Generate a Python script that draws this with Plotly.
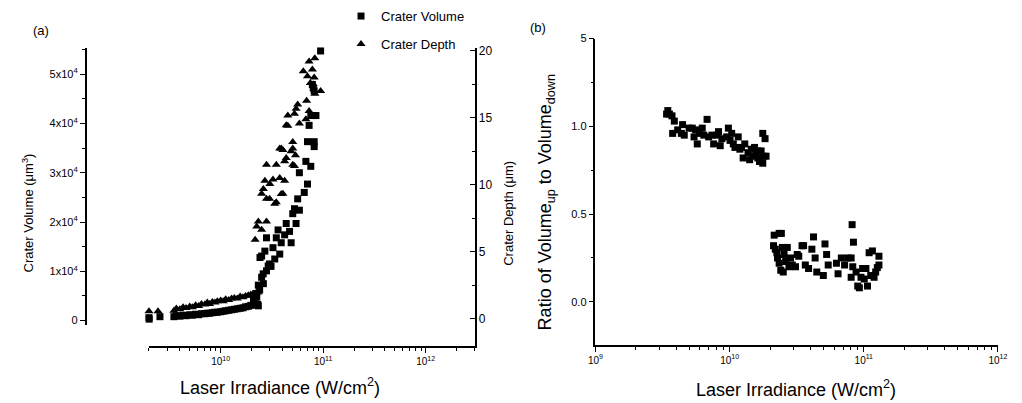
import plotly.graph_objects as go
import math

# ---------------- data ----------------
# Panel (a): irradiance in units of 1e10 W/cm^2, volume in units of 1e4 um^3
vol_x = [0.184, 0.20, 0.201, 0.256, 0.35, 0.37, 0.40, 0.43, 0.46, 0.50, 0.53, 0.57, 0.61, 0.65,
         0.70, 0.74, 0.78, 0.83, 0.88, 0.93, 1.0, 1.06, 1.12, 1.2, 1.28, 1.36, 1.45, 1.55, 1.65,
         1.75, 1.86, 1.97, 2.09, 2.2, 2.3, 2.33,
         2.09, 2.25, 2.2, 2.4, 2.33, 2.51, 2.61, 2.80, 2.91, 2.51, 2.70, 3.37, 3.77, 3.24, 3.90,
         4.87, 2.80, 3.49, 4.21, 4.70, 3.63, 4.36, 5.44, 5.05, 5.86, 5.25, 5.64, 6.54, 7.03, 5.86,
         7.57, 6.78, 8.17, 7.03, 8.17, 7.29, 7.57, 8.17, 8.17, 7.85, 9.44, 2.6, 3.0, 3.1, 2.42,
         8.5, 8.0]
vol_y = [0.05, 0.06, 0.03, 0.08, 0.08, 0.10, 0.09, 0.11, 0.10, 0.12, 0.11, 0.13, 0.12, 0.14,
         0.14, 0.15, 0.15, 0.16, 0.17, 0.17, 0.18, 0.19, 0.20, 0.21, 0.22, 0.23, 0.24, 0.25, 0.26,
         0.28, 0.29, 0.31, 0.32, 0.34, 0.33, 0.30,
         0.42, 0.48, 0.55, 0.62, 0.72, 0.88, 0.75, 1.01, 1.11, 1.31, 1.41, 1.25, 1.35, 1.48, 1.58,
         1.58, 1.68, 1.68, 1.74, 1.81, 1.84, 1.97, 1.97, 2.17, 2.24, 2.27, 2.47, 2.60, 2.77, 3.00,
         3.13, 3.23, 3.53, 3.63, 3.63, 3.96, 4.16, 4.16, 4.66, 4.79, 5.47, 0.95, 1.15, 1.10, 1.28,
         4.16, 4.72]

dep_x = [0.184, 0.20, 0.245, 0.35, 0.37, 0.40, 0.43, 0.46, 0.50, 0.53, 0.57, 0.61, 0.65, 0.70,
         0.74, 0.78, 0.83, 0.88, 0.93, 1.0, 1.06, 1.12, 1.2, 1.28, 1.36, 1.45, 1.55, 1.65, 1.75,
         1.86, 1.97, 2.09, 2.2, 2.3,
         2.17, 2.25, 2.51, 2.33, 2.80, 3.37, 2.80, 2.51, 4.05, 2.61, 3.02, 2.70, 4.21, 3.77, 3.24,
         2.80, 3.49, 4.21, 5.05, 4.36, 3.90, 5.05, 4.87, 4.05, 5.37, 5.05, 4.36, 5.86, 6.78, 4.52,
         5.25, 7.29, 5.44, 5.64, 6.89, 9.44, 7.03, 8.17, 6.40, 7.85, 7.29, 8.28, 7.75, 3.49, 3.0,
         3.9, 8.0, 8.3, 7.5, 5.25, 3.77, 4.52]
dep_y = [0.5, 0.55, 0.55, 0.6, 0.75, 0.7, 0.85, 0.8, 0.9, 0.85, 1.0, 0.95, 1.1, 1.05,
         1.2, 1.1, 1.25, 1.2, 1.3, 1.35, 1.3, 1.45, 1.4, 1.5, 1.55, 1.5, 1.65, 1.6, 1.7,
         1.75, 1.8, 1.85, 1.9, 1.95,
         5.9, 6.88, 6.64, 7.25, 7.25, 8.59, 8.95, 9.32, 9.32, 9.69, 10.05, 10.3, 10.3, 10.5, 10.4,
         11.5, 11.5, 11.76, 11.5, 12.0, 12.7, 12.7, 12.5, 12.6, 12.2, 13.2, 14.44, 14.57, 14.9, 15.18,
         15.3, 15.5, 15.67, 16.0, 16.27, 17.0, 18.1, 18.0, 18.47, 18.6, 19.2, 19.45, 21.4, 8.7, 8.95,
         9.3, 17.5, 16.8, 17.6, 11.4, 12.7, 14.4]

# Panel (b): irradiance in units of 1e10 W/cm^2, ratio Volume_up / Volume_down
rat_x = [0.346, 0.356, 0.339, 0.372, 0.387, 0.376, 0.410, 0.446, 0.437, 0.459, 0.499, 0.527,
         0.543, 0.558, 0.574, 0.597, 0.625, 0.642, 0.679, 0.698, 0.739, 0.760, 0.804, 0.827,
         0.851, 0.876, 0.951, 0.979, 1.007, 1.036, 1.065, 1.096, 1.159, 1.192, 1.226, 1.261,
         1.297, 1.371, 1.410, 1.451, 1.492, 1.534, 1.578, 1.622, 1.669, 1.717, 1.766, 1.796,
         1.837, 1.868, 1.766, 1.622,
         2.148, 2.339, 2.43, 2.125, 2.19, 2.275, 2.25, 2.339, 2.405, 2.51, 2.473, 2.545, 2.616,
         2.690, 2.767, 2.845, 2.93, 3.097, 3.19, 3.276, 3.465, 3.56, 3.666, 3.878, 4.102, 4.218,
         4.339, 4.463, 4.993, 5.137, 5.284, 5.43, 6.253, 6.430, 6.802, 7.193, 7.60, 8.052, 8.275,
         8.184, 8.370, 8.052, 8.759, 9.011, 9.266, 9.529, 9.800, 10.08, 10.37, 10.66, 10.96,
         11.59, 11.27, 11.93, 12.26, 12.61, 12.97, 12.97]
rat_y = [1.09, 1.07, 1.07, 1.06, 1.03, 0.96, 0.98, 1.01, 0.96, 0.95, 0.99, 0.99,
         0.94, 0.98, 0.90, 0.96, 0.99, 0.95, 1.04, 0.94, 0.95, 0.90, 0.95, 0.97,
         0.89, 0.93, 0.94, 0.99, 0.92, 0.96, 0.90, 0.88, 0.94, 0.87, 0.88, 0.82,
         0.90, 0.85, 0.81, 0.87, 0.83, 0.88, 0.84, 0.82, 0.80, 0.86, 0.96, 0.83,
         0.93, 0.83, 0.79, 0.86,
         0.38, 0.39, 0.39, 0.32, 0.30, 0.25, 0.28, 0.22, 0.18, 0.17, 0.31, 0.27, 0.23,
         0.31, 0.20, 0.25, 0.21, 0.20, 0.27, 0.26, 0.32, 0.32, 0.21, 0.19, 0.30, 0.37,
         0.25, 0.17, 0.15, 0.33, 0.27, 0.21, 0.22, 0.16, 0.25, 0.21, 0.25, 0.25, 0.20,
         0.44, 0.34, 0.14, 0.17, 0.09, 0.08, 0.14, 0.19, 0.13, 0.19, 0.09, 0.28,
         0.29, 0.15, 0.14, 0.17, 0.195, 0.26, 0.21]

UNIT_X = 1e10
UNIT_V = 1e4

x_major = [1e9, 1e10, 1e11, 1e12]
x_major_text = ["10<sup>9</sup>", "10<sup>10</sup>", "10<sup>11</sup>", "10<sup>12</sup>"]
vol_ticks = [0, 1e4, 2e4, 3e4, 4e4, 5e4]
vol_text = ["0", "1x10<sup>4</sup>", "2x10<sup>4</sup>", "3x10<sup>4</sup>", "4x10<sup>4</sup>", "5x10<sup>4</sup>"]
dep_ticks = [0, 5, 10, 15, 20]
rat_ticks = [0.0, 0.5, 1.0, 1.5]
rat_text = ["0.0", "0.5", "1.0", "5"]

# ---------------- layout helpers ----------------
W, H = 1022, 403
def px(x):
    return x / W
def py(y):
    return 1 - y / H

FONT = "Liberation Sans, Arial, sans-serif"
minor_x = [m * 10 ** e for e in range(9, 13) for m in range(2, 10)]

fig = go.Figure()
fig.add_trace(go.Scatter(x=[v * UNIT_X for v in vol_x], y=[v * UNIT_V for v in vol_y],
                         mode="markers", name="Crater Volume", legendgroup="a",
                         marker=dict(symbol="square", size=7, color="black"),
                         xaxis="x", yaxis="y", cliponaxis=False))
fig.add_trace(go.Scatter(x=[v * UNIT_X for v in dep_x], y=dep_y,
                         mode="markers", name="Crater Depth", legendgroup="b",
                         marker=dict(symbol="triangle-up", size=8, color="black"),
                         xaxis="x", yaxis="y2", cliponaxis=False))
fig.add_trace(go.Scatter(x=[v * UNIT_X for v in rat_x], y=rat_y,
                         mode="markers", showlegend=False,
                         marker=dict(symbol="square", size=7, color="black"),
                         xaxis="x3", yaxis="y3", cliponaxis=False))

axis_common = dict(showline=True, linecolor="black", linewidth=1.5, showgrid=False,
                   zeroline=False, tickcolor="black", tickwidth=1.2, ticklen=5,
                   tickfont=dict(family=FONT, size=11, color="black"))

fig.update_layout(
    width=W, height=H, margin=dict(l=0, r=0, t=0, b=0),
    paper_bgcolor="white", plot_bgcolor="rgba(0,0,0,0)",
    font=dict(family=FONT, color="black"),
    showlegend=True,
    legend=dict(x=px(339), y=py(-5), xanchor="left", yanchor="top",
                font=dict(family=FONT, size=13, color="black"),
                tracegroupgap=8, bgcolor="rgba(0,0,0,0)"),
    xaxis=dict(axis_common, type="log", domain=[px(143.5), px(475)],
               range=[math.log10(2e9), math.log10(3e12)], anchor="y2",
               ticks="outside", tickmode="array", tickvals=x_major, ticktext=x_major_text,
               tickfont=dict(family=FONT, size=10, color="black"),
               minor=dict(tickmode="array", tickvals=minor_x, ticks="outside", ticklen=3,
                          tickcolor="black", tickwidth=1)),
    yaxis=dict(axis_common, domain=[py(325), py(43)], anchor="free", position=px(79),
               range=[-795, 55270], ticks="outside", tickmode="array",
               tickvals=vol_ticks, ticktext=vol_text,
               minor=dict(tickmode="array", tickvals=[5e3, 1.5e4, 2.5e4, 3.5e4, 4.5e4, 5.5e4],
                          ticks="outside", ticklen=3, tickcolor="black", tickwidth=1)),
    yaxis2=dict(axis_common, domain=[py(347), py(43)], anchor="x", side="right",
                range=[-2.05, 20.2], ticks="inside", tickmode="array", tickvals=dep_ticks,
                tickfont=dict(family=FONT, size=12, color="black"),
                minor=dict(tickmode="array", tickvals=[2.5, 7.5, 12.5, 17.5],
                           ticks="inside", ticklen=3, tickcolor="black", tickwidth=1)),
    xaxis3=dict(axis_common, type="log", domain=[px(598), px(1007.7)], range=[9, 12],
                anchor="y3", ticks="outside", tickmode="array", tickvals=x_major,
                ticktext=x_major_text, tickfont=dict(family=FONT, size=10, color="black"),
                minor=dict(tickmode="array", tickvals=minor_x, ticks="outside", ticklen=3,
                           tickcolor="black", tickwidth=1)),
    yaxis3=dict(axis_common, domain=[py(345.7), py(33.3)], anchor="x3",
                range=[-0.245, 1.5], ticks="outside", tickmode="array",
                tickvals=rat_ticks, ticktext=rat_text,
                minor=dict(tickmode="array", tickvals=[-0.25, 0.25, 0.75, 1.25],
                           ticks="outside", ticklen=3, tickcolor="black", tickwidth=1)),
)

ann = [
    dict(text="(a)", x=px(34), y=py(25), size=13, angle=0),
    dict(text="(b)", x=px(539), y=py(22), size=13, angle=0),
    dict(text="Crater Volume (\u03bcm<sup>3</sup>)", x=px(20), y=py(211), size=13, angle=-90),
    dict(text="Crater Depth (\u03bcm)", x=px(510), y=py(212), size=13, angle=-90),
    dict(text="Laser Irradiance (W/cm<sup>2</sup>)", x=px(277), y=py(388), size=18, angle=0),
    dict(text="Laser Irradiance (W/cm<sup>2</sup>)", x=px(802), y=py(390), size=18, angle=0),
    dict(text="Ratio of Volume<sub>up</sub> to Volume<sub>down</sub>", x=px(548), y=py(200),
         size=18, angle=-90),
]
for a in ann:
    fig.add_annotation(text=a["text"], x=a["x"], y=a["y"], xref="paper", yref="paper",
                       xanchor="center", yanchor="middle", showarrow=False,
                       textangle=a["angle"], font=dict(family=FONT, size=a["size"], color="black"))

fig.write_html("out.html")
